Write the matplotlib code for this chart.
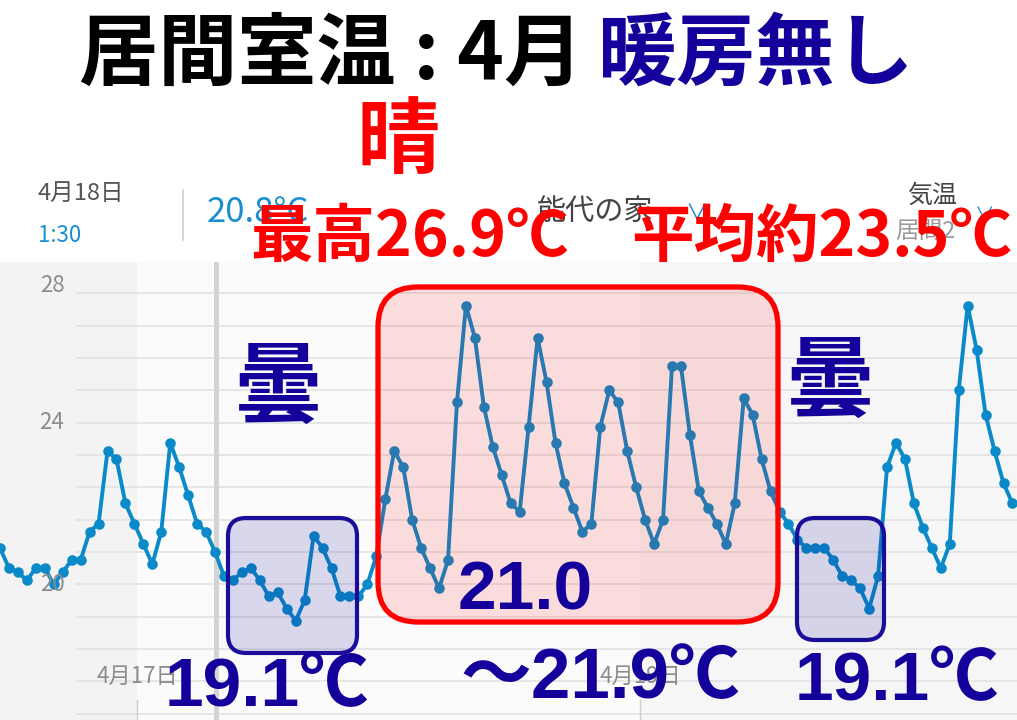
import matplotlib
matplotlib.use("Agg")
import matplotlib.pyplot as plt
import numpy as np
from matplotlib.patches import FancyBboxPatch, Rectangle
from matplotlib.transforms import blended_transform_factory, ScaledTranslation

plt.rcParams['font.family'] = ['Noto Sans CJK JP', 'DejaVu Sans']

# ---------------- data ----------------
temps = [20.9, 20.4, 20.3, 20.1, 20.4, 20.4, 20.0, 20.3, 20.6, 20.6,
         21.3, 21.5, 23.3, 23.1, 22.0, 21.5, 21.0, 20.5, 21.3, 23.5,
         22.9, 22.2, 21.5, 21.3, 20.8, 20.2, 20.1, 20.3, 20.4, 20.1,
         19.7, 19.8, 19.4, 19.1, 19.6, 21.2, 20.9, 20.4, 19.7, 19.7,
         19.7, 20.0, 20.7, 22.1, 23.3, 22.9, 21.6, 20.9, 20.4, 19.9,
         20.6, 24.5, 26.9, 26.1, 24.4, 23.4, 22.7, 22.0, 21.8, 23.9,
         26.1, 25.0, 23.5, 22.5, 21.9, 21.3, 21.5, 23.9, 24.8, 24.5,
         23.3, 22.4, 21.6, 21.0, 21.6, 25.4, 25.4, 23.7, 22.3, 21.9,
         21.5, 21.0, 22.0, 24.6, 24.2, 23.1, 22.3, 21.8, 21.5, 21.1,
         20.9, 20.9, 20.9, 20.6, 20.2, 20.1, 19.9, 19.4, 20.2, 22.9,
         23.5, 23.1, 22.0, 21.4, 20.9, 20.4, 21.0, 24.8, 26.9, 25.8,
         24.2, 23.3, 22.5, 22.0]
ytick_values = [16, 20, 24, 28]
ytick_labels = ['16', '20', '24', '28']
day_labels = ['4月17日', '4月19日']

num_family = ['Liberation Sans', 'Noto Sans CJK JP']

# ---------------- figure ----------------
W, H = 1017, 720
fig = plt.figure(figsize=(W / 100, H / 100), dpi=100)
fig.patch.set_facecolor('white')

px_per_unit = 40.4
y24_px = 422.7
step_px = 8.96
panel_top = 262

def px2val(py):
    return 24 + (y24_px - py) / px_per_unit

ax = fig.add_axes([0, 0, 1, (H - panel_top) / H])
ax.set_xlim(0, W / step_px)
ax.set_ylim(px2val(H), px2val(panel_top))
ax.axis('off')

# panel shading
ax.add_patch(Rectangle((0, 0), 137 / W, 1, transform=ax.transAxes,
                       facecolor='#f3f3f3', edgecolor='none', zorder=0))
ax.add_patch(Rectangle((137 / W, 0), (640 - 137) / W, 1, transform=ax.transAxes,
                       facecolor='#fbfbfb', edgecolor='none', zorder=0))
ax.add_patch(Rectangle((640 / W, 0), (W - 640) / W, 1, transform=ax.transAxes,
                       facecolor='#f6f6f6', edgecolor='none', zorder=0))

# gridlines every 0.8
for g in np.arange(16, 28.01, 0.8):
    ax.axhline(g, xmin=77 / W, xmax=1, color='#e4e4e4', lw=1.3, zorder=1)

# cursor line
ax.axvline(215.5 / step_px, color='#d4d4d4', lw=3.6, zorder=2)

# data line
x = np.arange(len(temps))
ax.plot(x, temps, color='#0a8ac8', lw=2.8, marker='o', markersize=7.6,
        markeredgewidth=0, zorder=3, clip_on=False)

# ---------------- overlay in pixel coords ----------------
ov = fig.add_axes([0, 0, 1, 1], zorder=5)
ov.set_xlim(0, W)
ov.set_ylim(H, 0)
ov.axis('off')
ov.patch.set_alpha(0)

# y tick labels
blend = blended_transform_factory(ov.transData, ax.transData)
label_shift_px = [15, 0, 0, -24]
for v, lab, dy in zip(ytick_values, ytick_labels, label_shift_px):
    tr = blend + ScaledTranslation(0, dy / 100, fig.dpi_scale_trans)
    ov.text(52, v, lab, transform=tr, ha='center', va='center',
            fontsize=16, color='#8c8c8c', zorder=6)

# day ticks & labels
for xp, lab in zip([137, 640], day_labels):
    ov.plot([xp, xp], [700, 720], color='#cccccc', lw=1, zorder=6)
    ov.text(xp, 676, lab, ha='center', va='center', fontsize=16,
            color='#8c8c8c', zorder=6)

# header of the app
ov.text(38, 193, '4月18日', ha='left', va='center', fontsize=17, color='#555555')
ov.text(38, 236, '1:30', ha='left', va='center', fontsize=16, color='#1a8fd0')
ov.plot([183, 183], [190, 240], color='#d0d0d0', lw=1.2)
ov.text(207, 213, '20.8°C', ha='left', va='center', fontsize=25, color='#1a8fd0')
ov.text(537, 212, '能代の家', ha='left', va='center', fontsize=21, color='#444444')
ov.text(697, 214, '∨', ha='center', va='center', fontsize=16, color='#1a8fd0')
ov.text(932, 196, '気温', ha='center', va='center', fontsize=18, color='#444444')
ov.text(925, 231, '居間2', ha='center', va='center', fontsize=17, color='#999999')
ov.text(985, 216, '∨', ha='center', va='center', fontsize=14, color='#1a8fd0')

# title
navy = '#14009a'
ov.text(583, 55, '居間室温 : 4月', ha='right', va='center', fontsize=57,
        fontweight='bold', color='black', zorder=7)
ov.text(598, 55, '暖房無し', ha='left', va='center', fontsize=57,
        fontweight='bold', color=navy, zorder=7)
ov.text(398, 143, '晴', ha='center', va='center', fontsize=60,
        fontweight='bold', color='#ff0000', zorder=7)
ov.text(250, 237, '最高26.9℃', ha='left', va='center', fontsize=45,
        fontweight='bold', color='#ff0000', zorder=7)
ov.text(1012, 237, '平均約23.5℃', ha='right', va='center', fontsize=45,
        fontweight='bold', color='#ff0000', zorder=7)

# boxes
red_box = FancyBboxPatch((378 + 30, 287 + 30), 400 - 60, 335 - 60,
                         boxstyle='round,pad=30,rounding_size=40',
                         facecolor=(1, 0, 0, 0.12), edgecolor='#ff0000',
                         lw=3.8, zorder=5)
ov.add_patch(red_box)
for (bx, by, bw, bh) in [(228, 518, 129, 135), (797, 518, 87, 122)]:
    b = FancyBboxPatch((bx + 14, by + 14), bw - 28, bh - 28,
                       boxstyle='round,pad=14,rounding_size=18',
                       facecolor=(0.1, 0.05, 0.6, 0.15), edgecolor='#1a0e99',
                       lw=3.0, zorder=5)
    ov.add_patch(b)

# navy annotations
ov.text(278, 390, '曇', ha='center', va='center', fontsize=64,
        fontweight='bold', color=navy, zorder=7)
ov.text(830, 384, '曇', ha='center', va='center', fontsize=64,
        fontweight='bold', color=navy, zorder=7)
ov.text(458, 592, '21.0', ha='left', va='center', fontsize=50,
        fontweight='bold', color=navy, family=num_family, zorder=7)
ov.text(460, 680, '～21.9℃', ha='left', va='center', fontsize=51,
        fontweight='bold', color=navy, family=num_family, zorder=7)
ov.text(165, 688, '19.1℃', ha='left', va='center', fontsize=50,
        fontweight='bold', color=navy, family=num_family, zorder=7)
ov.text(795, 682, '19.1℃', ha='left', va='center', fontsize=50,
        fontweight='bold', color=navy, family=num_family, zorder=7)

fig.savefig('out.png', dpi=100)
